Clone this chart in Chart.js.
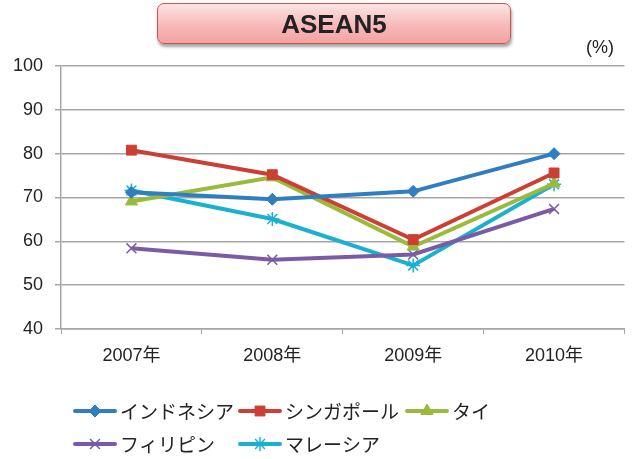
<!DOCTYPE html>
<html><head><meta charset="utf-8">
<script src="https://cdn.jsdelivr.net/npm/chart.js@4/dist/chart.umd.min.js"></script>
<style>
html,body{margin:0;padding:0;background:#fff;}
#wrap{position:relative;width:633px;height:459px;}
#title{position:absolute;left:157px;top:3px;width:352px;height:39px;border:1.5px solid #c9524e;border-radius:7px;
background:linear-gradient(#fde4e4,#f7b9b9 55%,#f2a2a2);box-shadow:1px 3px 3px rgba(0,0,0,0.35);
font:bold 26px "Liberation Sans",Arial,sans-serif;color:#222;text-align:center;line-height:40px;}
</style></head>
<body><div id="wrap"><canvas id="c" width="633" height="459"></canvas><div id="title">ASEAN5</div></div>
<script>
const categories = ['2007年','2008年','2009年','2010年'];
const seriesNames = ['インドネシア','シンガポール','タイ','フィリピン','マレーシア'];
const indonesia   = [71.2, 69.6, 71.4, 80.0];
const singapore   = [80.8, 75.2, 60.4, 75.6];
const thailand    = [69.1, 74.6, 58.8, 73.2];
const philippines = [58.4, 55.8, 57.0, 67.4];
const malaysia    = [71.6, 65.1, 54.5, 73.0];
const yTicks = [40,50,60,70,80,90,100];
const unitLabel = '(%)';

const colors = ['#2e7ec0','#cc3f35','#9aba3c','#7a5ca6','#1ab0cf'];
const styles = ['rectRot','rect','triangle','crossRot','star'];
const radii = [6,7,7,7,7];
const bws = [1,1,1,1.5,1.5];
const allData = [indonesia, singapore, thailand, philippines, malaysia];

const datasets = allData.map((d,i)=>({
  label: seriesNames[i], data: d, borderColor: colors[i], backgroundColor: colors[i],
  borderWidth: 4, pointStyle: styles[i], pointRadius: radii[i], pointBorderWidth: bws[i],
  pointBorderColor: colors[i], pointBackgroundColor: colors[i], tension: 0
}));

const legendPos = [[75,411],[240,411],[407,411],[75,444],[240,444]];
const FONT = '"Liberation Sans", "Noto Sans CJK JP", Arial, sans-serif';

const extras = {
  id: 'extras',
  afterDraw(chart){
    const ctx = chart.ctx;
    ctx.save();
    ctx.fillStyle = '#222';
    ctx.font = '18px ' + FONT;
    ctx.textAlign = 'center'; ctx.textBaseline = 'middle';
    ctx.fillText(unitLabel, 600, 48);
    ctx.font = '19px "Noto Sans CJK JP", sans-serif';
    ctx.textAlign = 'left';
    seriesNames.forEach((n,i)=>{
      const [x,y] = legendPos[i];
      ctx.strokeStyle = colors[i]; ctx.lineWidth = 4; ctx.lineCap='round';
      ctx.beginPath(); ctx.moveTo(x,y); ctx.lineTo(x+40,y); ctx.stroke();
      ctx.fillStyle = colors[i];
      ctx.lineCap='butt';
      ctx.lineWidth = bws[i];
      Chart.helpers.drawPoint(ctx, {pointStyle: styles[i], radius: radii[i], rotation:0, borderWidth: bws[i]}, x+20, y);
      ctx.fillStyle = '#222';
      ctx.fillText(n, x+45, y+1);
    });
    ctx.restore();
  }
};

new Chart(document.getElementById('c'), {
  type: 'line',
  data: { labels: categories, datasets },
  options: {
    responsive: false, animation: false,
    layout: { padding: { top: 66, left: 0, right: 5, bottom: 0 } },
    plugins: { legend: { display: false }, tooltip: { enabled: false } },
    scales: {
      x: {
        offset: true,
        grid: { offset: true, drawOnChartArea: false, drawTicks: true, tickLength: 5, color: '#a6a6a6' },
        border: { color: '#a6a6a6', width: 1.5 },
        ticks: { color: '#222', font: { size: 18, family: FONT }, padding: 11 },
        afterFit(s){ s.height = 130; }
      },
      y: {
        min: 40, max: 100,
        afterBuildTicks(s){ s.ticks = yTicks.map(v=>({value:v})); },
        grid: { color: '#a6a6a6', lineWidth: 1.5, tickLength: 6 },
        border: { color: '#a6a6a6', width: 1.5 },
        ticks: { color: '#222', font: { size: 18, family: FONT }, padding: 12 },
        afterFit(s){ s.width = 61; }
      }
    }
  },
  plugins: [extras]
});
</script></body></html>
